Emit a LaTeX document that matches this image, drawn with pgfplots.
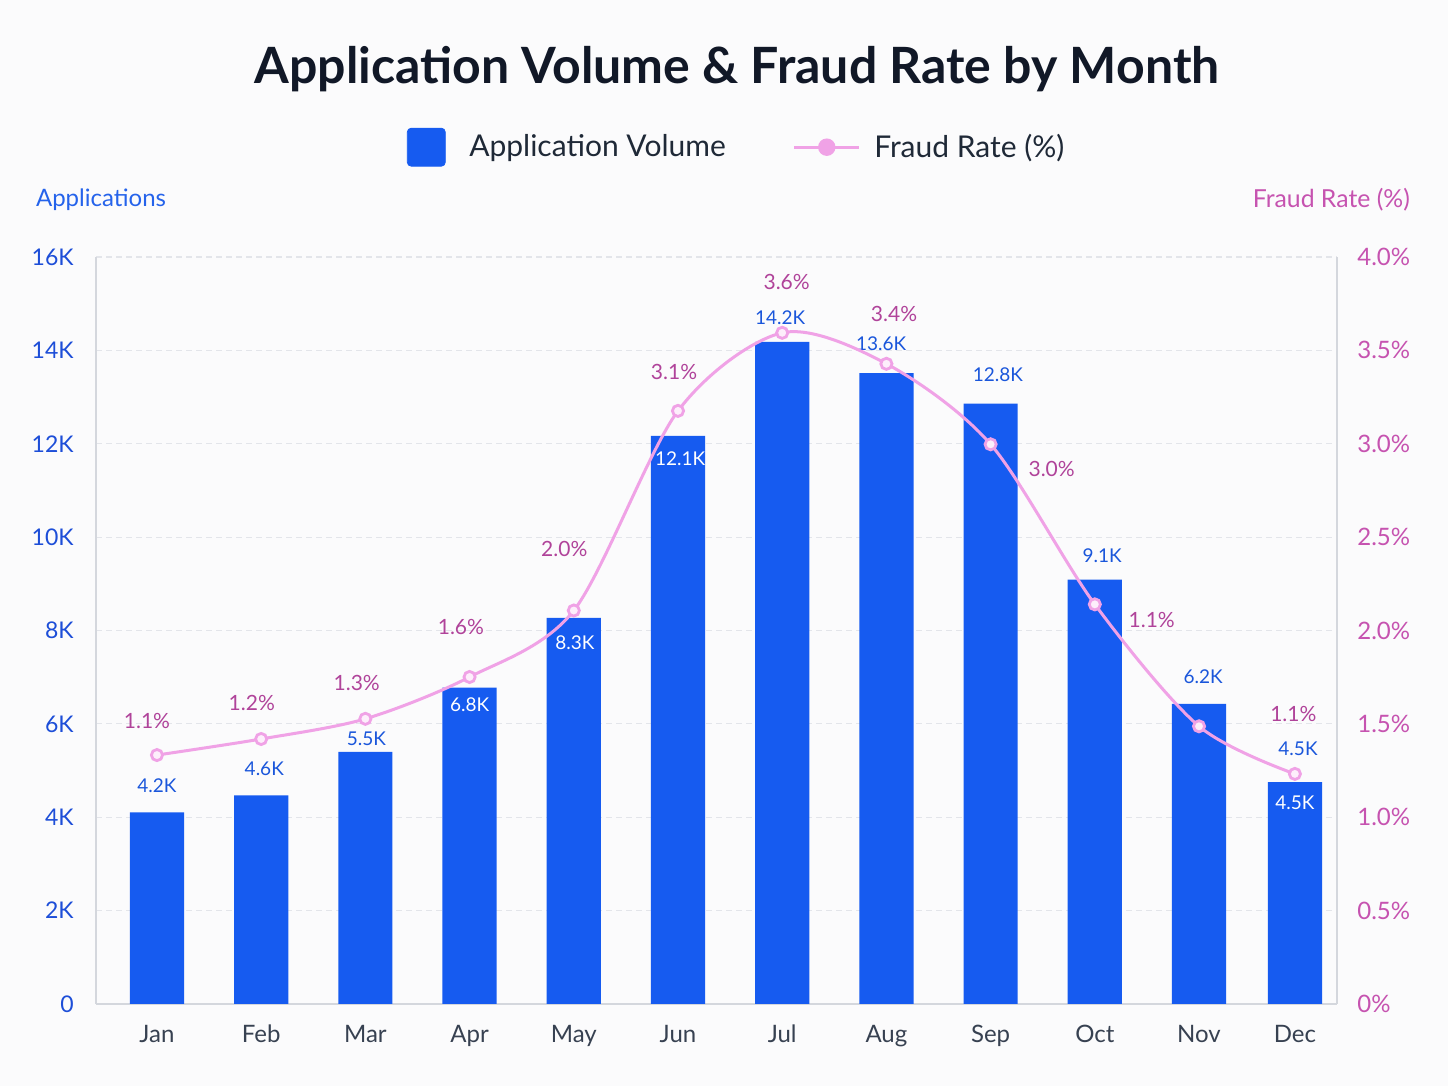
\documentclass[border=0pt]{standalone}
\usepackage{pgfplots}
\pgfplotsset{compat=1.18}
\usepackage{fontspec}
\setmainfont{Lato}
\definecolor{bgcol}{HTML}{FBFBFC}
\definecolor{barblue}{HTML}{165BF0}
\definecolor{tickblue}{HTML}{1D4ED8}
\definecolor{lblblue}{HTML}{2563EB}
\definecolor{valblue}{HTML}{1A56DB}
\definecolor{linepink}{HTML}{F0A2E6}
\definecolor{markfill}{HTML}{FDEEFB}
\definecolor{pinklbl}{HTML}{B0439A}
\definecolor{ticpink}{HTML}{C653B0}
\definecolor{titlecol}{HTML}{111827}
\definecolor{monthcol}{HTML}{374151}
\definecolor{legcol}{HTML}{1F2937}
\definecolor{gridcol}{HTML}{E3E5EA}
\definecolor{axcol}{HTML}{D4D7DD}
\newcommand{\fs}[1]{\fontsize{#1}{#1}\selectfont}
\begin{document}
\begin{tikzpicture}
\fill[bgcol] (-48pt,-41pt) rectangle (676pt,502pt);
\useasboundingbox (-48pt,-41pt) rectangle (676pt,502pt);
\begin{axis}[
  at={(0pt,0pt)}, anchor=south west,
  scale only axis, width=620.5pt, height=373.5pt,
  xmin=-0.585, xmax=11.324, ymin=0, ymax=16,
  axis x line*=bottom, axis y line*=left,
  axis line style={draw=axcol, line width=0.8pt},
  major tick length=0pt,
  /pgf/number format/assume math mode=true,
  xtick={0,1,2,3,4,5,6,7,8,9,10,10.92},
  xticklabels={Jan,Feb,Mar,Apr,May,Jun,Jul,Aug,Sep,Oct,Nov,Dec},
  xticklabel style={font=\fs{12}, text=monthcol, anchor=base, inner sep=0pt, yshift=-19.5pt},
  ytick={0,2,4,6,8,10,12,14,16},
  yticklabels={0,2K,4K,6K,8K,10K,12K,14K,16K},
  yticklabel style={font=\fs{11.5}, text=tickblue, anchor=east, inner sep=0pt, xshift=-11pt},
  ymajorgrids, grid style={draw=gridcol, dash pattern=on 3pt off 2pt, line width=0.6pt},
  ylabel={Applications},
  every axis y label/.style={at={(axis description cs:-0.0540,1.077)}, anchor=west, font=\fs{12}, text=lblblue},
]
\addplot[ybar, bar width=0.52, fill=barblue, draw=none, bar shift=0pt, forget plot]
  coordinates {(0,4.106) (1,4.47) (2,5.40) (3,6.775) (4,8.27) (5,12.17) (6,14.18) (7,13.51) (8,12.86) (9,9.09) (10,6.43) (10.92,4.75)};
\addplot[draw=none, forget plot, point meta=explicit symbolic, nodes near coords,
  nodes near coords style={anchor=center, font=\fs{9.5}, text=valblue, inner sep=0pt}]
  coordinates {(0,4.67)[4.2K] (1.03,5.03)[4.6K] (2.01,5.69)[5.5K] (5.98,14.69)[14.2K] (6.95,14.14)[13.6K] (8.07,13.47)[12.8K] (9.07,9.60)[9.1K] (10.04,7.01)[6.2K] (10.95,5.47)[4.5K]};
\addplot[draw=none, forget plot, point meta=explicit symbolic, nodes near coords,
  nodes near coords style={anchor=center, font=\fs{9.5}, text=white, inner sep=0pt}]
  coordinates {(3.0,6.40)[6.8K] (4.01,7.74)[8.3K] (5.02,11.67)[12.1K] (10.92,4.31)[4.5K]};
\end{axis}
\begin{axis}[
  at={(0pt,0pt)}, anchor=south west,
  scale only axis, width=620.5pt, height=373.5pt,
  xmin=-0.585, xmax=11.324, ymin=0, ymax=4,
  axis x line=none, axis y line*=right,
  axis line style={draw=axcol, line width=0.8pt},
  major tick length=0pt,
  /pgf/number format/assume math mode=true,
  ytick={0,0.5,1,1.5,2,2.5,3,3.5,4},
  yticklabels={0\%,0.5\%,1.0\%,1.5\%,2.0\%,2.5\%,3.0\%,3.5\%,4.0\%},
  yticklabel style={font=\fs{12}, text=ticpink, anchor=west, inner sep=0pt, xshift=10pt},
  ylabel={Fraud Rate (\%)},
  every axis y label/.style={at={(axis description cs:1.0644,1.077)}, anchor=east, font=\fs{12.4}, text=ticpink},
  legend style={at={(axis description cs:0.517,1.147)}, anchor=center, draw=none, fill=none,
    font=\fs{15}, text=legcol, legend columns=2,
    /tikz/every even column/.append style={column sep=31.5pt}},
  legend cell align=left,
  title={Application Volume \& Fraud Rate by Month},
  title style={at={(axis description cs:0.5165,1.2156)}, anchor=base, font=\fs{25}\bfseries, text=titlecol},
]
\addlegendimage{legend image code/.code={\fill[barblue, rounded corners=2pt] (0pt,-9.5pt) rectangle (19pt,9.5pt); \path[draw=none, fill=none] (0pt,0pt) -- (29pt,0pt);}}
\addlegendentry{Application Volume}
\addplot[smooth, color=linepink, line width=1.5pt, mark=*, mark size=2.8pt,
  mark options={fill=markfill, draw=linepink, line width=1.4pt},
  legend image code/.code={\draw[linepink, line width=1.5pt] (0pt,0pt) -- (32.5pt,0pt); \fill[linepink] (16.25pt,0pt) circle (3.6pt); \path[draw=none, fill=none] (0pt,0pt) -- (38pt,0pt);}]
  coordinates {(0,1.333) (1,1.419) (2,1.527) (3,1.751) (4,2.107) (5,3.176) (6,3.594) (7,3.428) (8,2.997) (9,2.140) (10,1.487) (10.92,1.232)};
\addlegendentry{Fraud Rate (\%)}
\addplot[draw=none, forget plot, point meta=explicit symbolic, nodes near coords,
  nodes near coords style={anchor=center, font=\fs{10.5}, text=pinklbl, inner sep=0pt}]
  coordinates {(-0.096,1.517)[1.1\%] (0.910,1.613)[1.2\%] (1.917,1.717)[1.3\%] (2.917,2.017)[1.6\%] (3.909,2.435)[2.0\%] (4.962,3.384)[3.1\%] (6.043,3.866)[3.6\%] (7.073,3.693)[3.4\%] (8.586,2.865)[3.0\%] (9.546,2.055)[1.1\%] (10.905,1.554)[1.1\%]};
\end{axis}
\end{tikzpicture}
\end{document}
